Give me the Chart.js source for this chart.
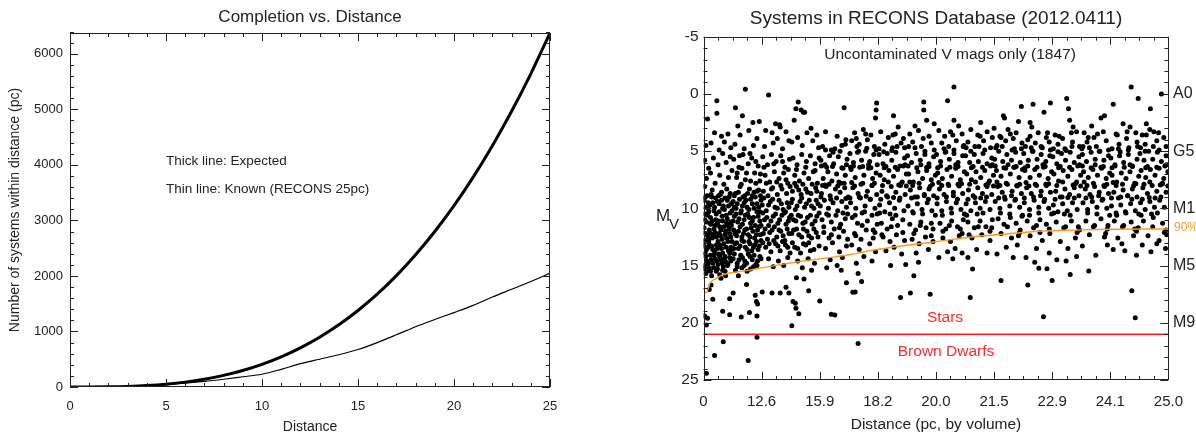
<!DOCTYPE html>
<html>
<head>
<meta charset="utf-8">
<script src="https://cdn.jsdelivr.net/npm/chart.js@4.4.1/dist/chart.umd.min.js"></script>
<style>
  html, body { margin: 0; padding: 0; background: #fff; }
  #wrap { position: relative; width: 1196px; height: 433px; overflow: hidden; }
  canvas { position: absolute; top: 0; }
  #left { left: 0; }
  #right { left: 620px; }
</style>
</head>
<body>
<div id="wrap">
  <canvas id="left" width="620" height="433"></canvas>
  <canvas id="right" width="576" height="433"></canvas>
</div>
<script>
// ---- left panel: cumulative counts vs distance ----
const distances = [0,1,2,3,4,5,6,7,8,9,10,11,12,13,14,15,16,17,18,19,20,21,22,23,24,25];
const expectedCount = [0,0,3,11,26,51,88,140,209,297,408,543,705,896,1120,1378,1672,2006,2382,2800,3265,3780,4345,4965,5640,6375];
const knownCount = [0,1,4,10,22,42,68,100,140,185,230,318,420,500,580,675,800,940,1085,1215,1340,1470,1620,1760,1900,2050];
const distanceTicks = [0,5,10,15,20,25];
const countTicks = [0,1000,2000,3000,4000,5000,6000];

// ---- right panel: M_V vs distance (x = volume eighths) ----
const distLabels = ['0','12.6','15.9','18.2','20.0','21.5','22.9','24.1','25.0'];
const mvTicks = [-5,0,5,10,15,20,25];
const spectralLabels = { 0: 'A0', 5: 'G5', 10: 'M1', 15: 'M5', 20: 'M9' };
const completeVol = [0,0.05,0.11,0.23,0.34,0.51,0.79,1.01,1.35,1.63,1.92,2.2,2.48,2.87,3.44,4.0,4.56,5.18,5.86,6.41,7.0,8.0];
const completeMv  = [17.1,17.4,16.55,16.1,15.8,15.6,15.4,15.2,14.9,14.67,14.46,14.28,14.08,13.7,13.27,12.92,12.53,12.25,11.98,11.9,11.83,11.8];
const starDwarfLimit = 21;

const systemsNear = [
  [0.07,2.2],[0.23,0.6],[0.23,1.7],[0.04,4.5],[0.13,4.3],[0.19,3.4],[0.31,3.7],[0.36,4.2],[0.42,3.5],[0.47,4.7],[0.27,4.9],
  [0.02,5.8],[0.09,6.5],[0.17,5.6],[0.25,6.2],[0.33,5.2],[0.39,6.0],[0.46,5.5],[0.05,7.4],[0.12,6.9],[0.2,7.8],[0.28,7.1],[0.35,7.9],[0.43,7.3],[0.49,6.7],[0.15,8.4],[0.31,8.6],[0.02,8.1],[0.4,8.3],
  [0.01,9.3],[0.06,8.9],[0.11,9.7],[0.14,9.0],[0.19,9.9],[0.24,9.4],[0.29,8.8],[0.34,9.8],[0.37,9.1],[0.44,9.0],[0.48,9.6],
  [0.03,10.5],[0.08,10.0],[0.12,10.8],[0.18,10.2],[0.21,11.0],[0.27,10.3],[0.32,10.7],[0.36,10.1],[0.41,10.9],[0.46,10.4],
  [0.01,11.7],[0.05,11.2],[0.1,11.9],[0.13,11.4],[0.18,11.8],[0.24,11.3],[0.28,11.6],[0.33,11.1],[0.38,12.0],[0.42,11.5],[0.47,11.2],
  [0.02,12.8],[0.06,12.3],[0.09,12.9],[0.15,12.6],[0.2,12.1],[0.25,12.9],[0.29,12.4],[0.35,13.1],[0.4,12.6],[0.45,12.2],[0.49,12.9],
  [0.03,13.9],[0.08,13.4],[0.12,14.1],[0.16,13.6],[0.22,13.2],[0.26,14.0],[0.31,13.5],[0.37,14.2],[0.43,13.7],[0.47,13.4],
  [0.02,15.0],[0.06,14.6],[0.1,15.2],[0.16,14.8],[0.2,14.4],[0.25,14.9],[0.3,14.5],[0.34,15.1],[0.39,14.7],[0.45,14.3],
  [0.04,15.7],[0.09,15.4],[0.14,15.9],[0.22,15.5],[0.28,15.8],[0.37,15.5],[0.3,16.1],[0.38,15.9],
  [0.72,-0.4],[0.55,1.2],[0.67,1.9],[0.59,2.8],[0.85,2.5],[0.96,2.4],[0.63,3.6],[0.78,3.2],[0.92,3.9],[0.54,4.4],[0.7,4.8],[0.86,4.5],
  [0.52,5.7],[0.61,6.4],[0.68,5.3],[0.77,6.1],[0.83,5.6],[0.94,6.3],[0.57,7.3],[0.65,7.9],[0.74,6.9],[0.81,7.6],[0.9,7.8],[0.98,7.0],[0.55,8.7],[0.63,8.1],[0.71,8.9],[0.79,8.3],[0.87,8.6],[0.95,8.4],
  [0.51,9.4],[0.56,10.0],[0.62,9.2],[0.67,9.8],[0.73,9.3],[0.78,10.1],[0.84,9.6],[0.89,9.0],[0.95,9.9],[0.99,9.3],
  [0.53,10.7],[0.59,11.2],[0.64,10.4],[0.7,11.0],[0.76,10.5],[0.81,11.3],[0.86,10.8],[0.92,10.3],[0.97,11.1],
  [0.52,11.9],[0.57,12.4],[0.63,11.6],[0.69,12.2],[0.74,11.8],[0.8,12.5],[0.85,12.0],[0.91,12.3],[0.96,11.6],
  [0.54,13.1],[0.6,13.5],[0.66,12.8],[0.72,13.4],[0.78,12.9],[0.83,13.7],[0.88,13.2],[0.94,13.6],[0.99,12.8],
  [0.51,14.4],[0.58,14.8],[0.64,14.1],[0.71,14.6],[0.77,14.0],[0.84,14.5],[0.9,14.9],[0.97,14.2],
  [0.55,15.4],[0.66,15.2],[0.75,15.5],[0.86,15.1],[0.6,15.9],
  [1.12,0.1],[1.24,2.6],[1.31,2.7],[1.32,2.9],[1.18,3.4],[1.07,3.2],[1.27,3.9],[1.42,3.3],[1.47,4.1],[1.05,4.6],[1.2,4.3],[1.36,4.8],
  [1.02,5.5],[1.1,6.2],[1.17,5.3],[1.25,5.9],[1.33,5.4],[1.4,6.4],[1.48,5.7],[1.06,7.1],[1.14,7.7],[1.22,6.8],[1.3,7.4],[1.38,6.9],[1.45,7.8],[1.03,8.5],[1.11,8.9],[1.19,8.2],[1.27,8.8],[1.35,8.3],[1.43,8.7],[1.49,8.1],
  [1.01,9.7],[1.08,10.2],[1.15,9.4],[1.23,9.9],[1.3,9.3],[1.37,10.1],[1.44,9.5],[1.05,11.0],[1.12,11.5],[1.2,10.7],[1.28,11.3],[1.35,10.6],[1.42,11.4],[1.48,10.8],
  [1.03,12.2],[1.1,12.7],[1.18,11.9],[1.26,12.5],[1.33,12.0],[1.4,12.8],[1.47,12.2],[1.07,13.4],[1.16,13.8],[1.24,13.1],[1.32,13.7],[1.41,13.2],[1.49,13.9],[1.12,14.4],[1.29,14.6],[1.45,14.3],[1.2,15.1],[1.38,15.0],
  [1.63,0.7],[1.59,1.3],[1.72,1.6],[1.68,1.4],[1.74,1.6],[1.56,2.3],[1.85,3.0],[1.95,3.6],[1.62,3.8],[1.78,3.4],[1.52,4.2],[1.7,4.5],[1.88,4.1],[1.98,4.7],
  [1.54,5.6],[1.61,6.2],[1.69,5.3],[1.77,5.9],[1.84,5.4],[1.92,6.1],[1.99,5.6],[1.57,7.1],[1.65,7.6],[1.73,6.9],[1.81,7.4],[1.89,6.8],[1.96,7.8],[1.53,8.5],[1.6,8.1],[1.68,8.8],[1.76,8.3],[1.85,8.7],[1.93,8.2],
  [1.51,9.5],[1.58,10.1],[1.66,9.4],[1.74,9.9],[1.82,9.3],[1.9,10.0],[1.97,9.6],[1.55,11.0],[1.63,10.6],[1.71,11.3],[1.79,10.8],[1.87,11.4],[1.95,10.7],[1.52,12.2],[1.6,11.8],[1.69,12.5],[1.78,12.0],[1.86,12.6],[1.94,12.1],[1.57,13.4],[1.67,13.9],[1.76,13.2],[1.84,13.7],[1.99,13.3],[1.62,14.6],[1.8,14.4],[1.91,14.8],[1.7,15.2],[1.86,15.4]
];

const systemsMid = [
  [2.42,1.2],[2.1,3.3],[2.3,3.7],[2.45,4.0],[2.05,4.6],[2.2,4.9],[2.38,4.5],
  [2.02,5.8],[2.09,6.2],[2.17,5.4],[2.24,6.1],[2.32,5.5],[2.4,6.5],[2.47,5.7],[2.06,7.4],[2.14,6.8],[2.21,7.6],[2.29,7.0],[2.36,7.8],[2.44,7.1],[2.03,8.7],[2.11,8.1],[2.18,8.9],[2.27,8.3],[2.35,8.6],[2.43,8.2],[2.49,9.0],
  [2.01,9.8],[2.08,9.3],[2.15,10.0],[2.23,9.5],[2.31,10.2],[2.38,9.4],[2.46,9.9],[2.04,11.0],[2.12,10.5],[2.2,11.2],[2.28,10.6],[2.36,11.4],[2.44,10.9],[2.07,12.1],[2.16,12.6],[2.25,11.8],[2.33,12.5],[2.41,12.0],[2.48,12.7],[2.1,13.5],[2.22,13.0],[2.34,13.8],[2.46,13.3],[2.18,14.5],[2.39,14.3],[2.3,15.0],[2.12,15.2],[2.37,15.4],
  [2.98,0.8],[2.97,1.4],[2.96,2.1],[2.6,3.4],[2.75,3.1],[2.88,3.6],[2.55,4.1],[2.68,4.4],[2.82,4.0],[2.94,4.6],[2.63,3.9],
  [2.52,5.2],[2.58,6.0],[2.65,5.1],[2.72,5.8],[2.79,5.0],[2.86,5.9],[2.93,5.3],[2.99,6.2],[2.54,6.6],[2.61,7.3],[2.69,6.4],[2.76,7.1],[2.84,6.5],[2.91,7.4],[2.97,6.9],[2.57,8.2],[2.66,8.7],[2.74,7.8],[2.82,8.5],[2.9,8.0],[2.98,8.8],
  [2.53,9.5],[2.62,10.0],[2.7,9.1],[2.78,9.8],[2.87,9.2],[2.95,10.0],[2.56,10.8],[2.65,11.3],[2.73,10.4],[2.82,11.1],[2.9,10.6],[2.99,11.4],[2.6,12.2],[2.71,12.7],[2.8,11.9],[2.92,12.6],[2.55,13.2],[2.68,13.6],[2.86,13.1],[2.96,13.8],[2.76,14.2],[2.9,14.6],[2.63,14.8],
  [3.27,1.9],[3.35,2.9],[3.05,3.3],[3.18,3.8],[3.3,3.5],[3.44,3.9],[3.12,4.4],[3.25,4.7],[3.4,4.3],
  [3.02,5.3],[3.09,6.1],[3.16,5.2],[3.24,5.8],[3.31,5.1],[3.38,6.3],[3.46,5.6],[3.04,7.1],[3.11,7.5],[3.19,6.7],[3.27,7.2],[3.34,6.6],[3.42,7.7],[3.49,7.0],[3.07,8.5],[3.15,8.9],[3.23,8.1],[3.31,8.6],[3.39,8.0],[3.47,8.8],
  [3.03,9.7],[3.12,10.3],[3.2,9.5],[3.29,10.0],[3.37,9.3],[3.45,10.2],[3.06,11.3],[3.16,11.8],[3.25,10.9],[3.34,11.5],[3.43,11.0],[3.09,12.5],[3.21,12.9],[3.32,12.3],[3.46,12.8],[3.14,13.7],[3.28,13.4],[3.41,14.0],[3.22,15.0],[3.48,14.9],
  [3.79,0.7],[3.79,1.4],[3.84,2.3],[3.64,2.8],[3.97,2.6],[3.55,3.5],[3.7,3.2],[3.88,3.7],[3.6,4.2],[3.75,4.6],[3.92,4.3],
  [3.51,5.4],[3.58,6.0],[3.66,5.2],[3.73,5.8],[3.81,5.3],[3.88,6.1],[3.96,5.5],[3.53,7.0],[3.61,7.7],[3.69,6.8],[3.77,7.4],[3.84,6.7],[3.92,7.5],[3.99,7.1],[3.56,8.4],[3.64,9.0],[3.72,8.2],[3.8,8.8],[3.88,8.3],[3.96,8.9],
  [3.52,9.8],[3.6,10.3],[3.68,9.6],[3.76,10.1],[3.85,9.5],[3.93,10.2],[3.55,11.4],[3.65,11.9],[3.74,11.2],[3.83,11.7],[3.92,11.3],[3.59,12.7],[3.71,13.1],[3.82,12.5],[3.95,12.9],[3.66,13.9],[3.87,13.6],[3.7,14.7],
  [4.2,0.6],[4.31,-0.6],[4.31,2.3],[4.39,2.8],[4.05,3.2],[4.15,3.7],[4.25,3.3],[4.45,3.5],[4.1,4.3],[4.22,4.6],[4.35,4.1],[4.48,4.5],
  [4.01,5.3],[4.08,5.9],[4.16,5.1],[4.23,5.7],[4.31,5.2],[4.38,6.0],[4.46,5.4],[4.03,6.9],[4.11,7.4],[4.19,6.6],[4.27,7.2],[4.34,6.5],[4.42,7.5],[4.49,6.8],[4.06,8.3],[4.14,8.8],[4.22,8.0],[4.3,8.6],[4.38,7.9],[4.46,8.7],
  [4.02,9.6],[4.1,10.2],[4.18,9.4],[4.26,10.0],[4.35,9.5],[4.43,10.1],[4.07,11.3],[4.17,11.8],[4.27,11.1],[4.37,11.6],[4.47,11.0],[4.12,12.6],[4.25,12.9],[4.4,12.4],[4.2,13.8],[4.33,13.5],[4.45,13.9],[4.29,14.4],[4.05,14.3],
  [4.77,2.5],[4.6,3.1],[4.72,3.6],[4.88,3.3],[4.97,3.8],[4.55,4.2],[4.67,4.6],[4.82,4.1],[4.94,4.7],
  [4.51,5.4],[4.58,6.0],[4.66,5.3],[4.73,5.9],[4.81,5.2],[4.88,6.1],[4.96,5.6],[4.53,7.0],[4.61,7.5],[4.69,6.8],[4.77,7.3],[4.84,6.7],[4.92,7.6],[4.99,7.1],[4.56,8.4],[4.64,8.9],[4.72,8.2],[4.8,8.7],[4.88,8.1],[4.96,8.8],
  [4.52,9.6],[4.6,10.2],[4.68,9.5],[4.76,10.0],[4.85,9.4],[4.93,10.1],[4.55,11.2],[4.66,11.7],[4.76,11.1],[4.86,11.6],[4.97,11.0],[4.62,12.6],[4.79,12.3],[4.93,12.8],[4.7,13.6],[4.88,13.9],[4.55,14.3]
];

const systemsFar = [
  [5.47,1.1],[5.16,1.9],[5.18,2.1],[5.42,2.4],[5.0,3.0],[5.24,3.1],[5.1,3.7],[5.33,3.9],[5.38,3.4],[5.05,4.5],[5.2,4.1],[5.35,4.8],[5.48,4.3],
  [5.01,5.7],[5.08,5.0],[5.15,5.9],[5.22,5.3],[5.3,5.8],[5.37,5.1],[5.45,6.0],[5.04,6.7],[5.12,7.2],[5.2,6.5],[5.28,7.0],[5.35,6.4],[5.43,7.3],[5.49,6.6],[5.06,8.1],[5.14,8.6],[5.23,7.9],[5.31,8.5],[5.39,8.0],[5.47,8.7],
  [5.02,9.4],[5.1,10.0],[5.19,9.2],[5.27,9.8],[5.36,9.3],[5.44,9.9],[5.07,10.9],[5.17,11.4],[5.28,10.8],[5.38,11.3],[5.48,10.7],[5.12,12.2],[5.3,12.6],[5.44,12.1],[5.21,13.4],[5.4,13.2],[5.33,14.3],[5.05,14.0],
  [5.67,0.9],[5.97,0.8],[5.86,1.6],[5.65,2.9],[5.62,2.5],[5.76,3.4],[5.9,3.8],[5.58,4.0],[5.71,4.3],[5.83,4.7],[5.95,4.2],[5.54,4.6],
  [5.51,5.2],[5.59,5.8],[5.66,5.0],[5.74,5.7],[5.81,5.3],[5.89,5.9],[5.96,5.4],[5.53,6.7],[5.62,7.3],[5.7,6.6],[5.78,7.1],[5.85,6.4],[5.93,7.4],[5.99,6.8],[5.56,8.2],[5.64,8.7],[5.73,8.0],[5.81,8.5],[5.89,7.9],[5.97,8.6],
  [5.52,9.5],[5.61,10.1],[5.69,9.3],[5.77,9.9],[5.86,9.4],[5.94,10.0],[5.57,11.1],[5.68,11.7],[5.79,11.0],[5.9,11.4],[5.62,12.4],[5.83,12.8],[5.96,12.2],[5.73,13.5],[5.55,14.3],[5.95,13.9],[5.7,14.7],
  [6.25,0.4],[6.28,1.3],[6.3,2.3],[6.36,2.9],[6.05,3.6],[6.18,3.9],[6.42,3.3],[6.1,4.4],[6.22,4.8],[6.35,4.2],[6.47,4.6],
  [6.01,5.5],[6.08,6.1],[6.16,5.2],[6.23,5.8],[6.31,5.1],[6.38,6.0],[6.46,5.5],[6.03,7.0],[6.11,7.6],[6.19,6.7],[6.27,7.2],[6.34,6.6],[6.42,7.7],[6.49,7.1],[6.06,8.5],[6.14,9.0],[6.22,8.3],[6.3,8.8],[6.38,8.2],[6.46,8.9],
  [6.02,9.7],[6.1,10.3],[6.18,9.6],[6.26,10.2],[6.35,9.5],[6.43,10.1],[6.07,11.2],[6.2,11.7],[6.33,11.1],[6.45,11.6],[6.14,12.9],[6.4,12.6],[6.27,13.5],[6.42,14.2],[6.08,14.5],[6.24,14.6],
  [6.84,2.1],[6.9,1.9],[6.68,2.8],[6.55,3.4],[6.72,3.8],[6.88,3.3],[6.6,4.2],[6.76,4.6],[6.93,4.1],[6.51,4.8],
  [6.52,5.3],[6.59,5.9],[6.67,5.1],[6.74,5.7],[6.82,5.0],[6.89,5.8],[6.97,5.4],[6.54,6.8],[6.62,7.3],[6.7,6.6],[6.78,7.1],[6.85,6.5],[6.93,7.4],[6.99,6.9],[6.57,8.3],[6.65,8.8],[6.73,8.1],[6.81,8.6],[6.89,8.0],[6.97,8.7],
  [6.53,9.5],[6.61,10.1],[6.69,9.4],[6.77,9.9],[6.86,9.3],[6.94,10.0],[6.58,11.1],[6.71,11.6],[6.84,10.9],[6.96,11.5],[6.64,12.3],[6.9,12.5],[6.75,14.1],[6.52,13.3],[6.95,13.2],
  [7.05,0.9],[7.36,-0.6],[7.48,0.4],[7.22,2.6],[7.34,2.9],[7.1,3.5],[7.28,3.9],[7.44,3.4],[7.15,4.4],[7.32,4.7],[7.46,4.2],[7.03,4.8],
  [7.01,5.6],[7.08,6.2],[7.16,5.4],[7.23,6.0],[7.31,5.3],[7.38,6.3],[7.46,5.7],[7.03,7.1],[7.11,7.7],[7.19,6.9],[7.27,7.4],[7.34,6.8],[7.42,7.8],[7.49,7.2],[7.06,8.6],[7.14,9.1],[7.22,8.4],[7.3,8.9],[7.38,8.3],[7.46,9.0],
  [7.02,9.8],[7.1,10.4],[7.18,9.7],[7.26,10.3],[7.35,9.6],[7.43,10.2],[7.07,11.1],[7.21,11.6],[7.36,11.2],[7.48,11.7],[7.13,12.6],[7.4,12.4],[7.25,13.7],[7.05,13.6],[7.45,14.1],[7.2,13.1],
  [7.69,1.3],[7.88,0.0],[7.62,2.6],[7.68,3.1],[7.55,3.6],[7.75,3.3],[7.92,3.8],[7.6,4.4],[7.8,4.1],[7.96,4.6],
  [7.51,5.2],[7.58,5.8],[7.66,5.0],[7.73,5.7],[7.81,5.1],[7.88,5.9],[7.96,5.4],[7.53,6.7],[7.61,7.3],[7.69,6.6],[7.77,7.1],[7.84,6.5],[7.92,7.4],[7.99,6.8],[7.56,8.2],[7.64,8.7],[7.72,8.0],[7.8,8.5],[7.88,7.9],[7.96,8.6],
  [7.52,9.5],[7.6,10.1],[7.68,9.4],[7.76,9.9],[7.85,9.3],[7.93,9.9],[7.57,11.1],[7.74,10.8],[7.9,11.3],[7.65,12.4],[7.84,12.8],[7.97,12.3],[7.7,13.8],[7.55,13.2],[7.95,13.5],[7.8,13.1]
];

// second pass over the crowded areas (fills between the rows above)
const systemsCrowded = [
  [0.04,9.9],[0.09,10.3],[0.16,9.5],[0.22,10.5],[0.27,9.6],[0.33,10.0],[0.39,10.6],[0.43,9.8],[0.49,10.2],
  [0.02,11.0],[0.07,10.6],[0.11,11.3],[0.15,11.1],[0.2,11.5],[0.26,11.1],[0.3,11.9],[0.35,11.6],[0.4,11.3],[0.44,11.8],[0.48,11.5],
  [0.03,12.2],[0.08,12.6],[0.12,12.2],[0.17,12.3],[0.22,12.5],[0.27,12.2],[0.32,12.7],[0.37,12.3],[0.42,12.9],[0.47,12.5],
  [0.01,13.3],[0.05,13.6],[0.1,13.2],[0.14,13.3],[0.19,13.8],[0.24,13.5],[0.28,13.2],[0.33,13.9],[0.39,13.4],[0.45,13.9],[0.49,13.6],
  [0.04,14.2],[0.08,14.8],[0.13,14.5],[0.18,14.1],[0.23,14.6],[0.28,14.2],[0.32,14.8],[0.36,14.4],[0.42,14.9],[0.47,14.6],
  [0.01,15.3],[0.07,15.1],[0.12,15.5],[0.18,15.2],[0.24,15.3],[0.33,15.4],[0.41,15.0],
  [0.03,9.0],[0.08,9.5],[0.13,8.8],[0.21,9.1],[0.26,8.9],[0.31,9.3],[0.41,9.3],[0.46,8.7],
  [0.53,9.9],[0.58,9.6],[0.65,10.2],[0.7,9.5],[0.75,9.9],[0.81,9.2],[0.87,10.0],[0.92,9.6],[0.97,10.3],
  [0.51,11.1],[0.56,10.5],[0.61,10.9],[0.67,11.4],[0.72,10.6],[0.79,10.8],[0.84,11.1],[0.89,11.5],[0.94,10.7],[0.99,11.5],
  [0.54,12.2],[0.6,12.0],[0.66,12.5],[0.71,11.9],[0.77,12.3],[0.82,11.7],[0.88,12.6],[0.93,11.9],[0.98,12.3],
  [0.52,13.5],[0.57,13.0],[0.63,13.3],[0.69,12.9],[0.75,13.6],[0.8,13.1],[0.86,13.4],[0.91,12.9],[0.96,13.3],
  [0.53,14.0],[0.61,14.5],[0.67,14.3],[0.74,14.8],[0.8,14.2],[0.87,14.1],[0.93,14.6],[0.99,14.4],
  [0.58,15.1],[0.7,15.0],[0.81,15.3],[0.92,15.0],
  [0.53,8.9],[0.6,8.6],[0.68,9.0],[0.76,8.7],[0.84,8.9],[0.92,8.5],[0.98,8.9],
  [0.58,6.9],[0.66,6.5],[0.72,7.5],[0.88,6.9],[0.97,7.6],[0.62,5.4],[0.8,5.2],[0.9,5.9],
  [1.04,9.1],[1.12,9.7],[1.19,9.2],[1.27,10.0],[1.34,9.6],[1.41,10.3],[1.47,9.9],
  [1.02,10.4],[1.09,10.8],[1.16,11.1],[1.24,10.5],[1.31,11.0],[1.39,10.4],[1.46,11.1],
  [1.06,11.8],[1.14,12.1],[1.22,11.6],[1.3,11.9],[1.37,12.4],[1.44,11.8],
  [1.02,13.0],[1.13,13.1],[1.21,12.8],[1.28,13.3],[1.36,12.9],[1.45,13.4],
  [1.08,7.8],[1.17,8.3],[1.26,7.7],[1.33,8.0],[1.42,7.5],[1.04,6.4],[1.21,6.1],[1.36,5.9],[1.46,6.6],
  [1.53,9.2],[1.61,9.8],[1.69,9.1],[1.77,9.6],[1.86,9.8],[1.94,9.3],
  [1.51,10.6],[1.59,11.1],[1.67,10.7],[1.75,11.2],[1.84,10.6],[1.92,11.1],[1.99,10.4],
  [1.55,11.9],[1.64,12.3],[1.72,11.8],[1.81,12.4],[1.9,11.8],[1.97,12.5],
  [1.53,13.0],[1.62,13.5],[1.72,13.1],[1.81,13.0],[1.9,13.6],
  [1.57,7.8],[1.64,8.4],[1.71,7.9],[1.79,8.6],[1.87,7.9],[1.95,8.5],[1.6,6.6],[1.76,6.4],[1.92,6.7],
  [2.03,6.3],[2.1,4.9],[2.16,7.9],[2.22,6.35],[2.29,9.1],[2.35,5.0],[2.42,7.8],[2.48,10.5],[2.05,8.0],[2.12,6.4],[2.19,9.2],[2.26,4.8],[2.33,7.7],[2.4,10.4],[2.46,6.2],[2.02,9.0],[2.09,7.95],[2.15,10.6],[2.23,5.1],[2.31,8.05],[2.38,6.45],[2.45,9.15],[2.07,11.6],[2.2,12.3],[2.34,11.7],[2.44,4.4],
  [2.52,9.1],[2.58,6.3],[2.64,4.6],[2.71,7.9],[2.77,10.3],[2.84,6.2],[2.9,8.0],[2.97,4.9],[2.55,7.75],[2.61,10.6],[2.68,9.0],[2.74,6.35],[2.81,4.75],[2.87,9.2],[2.94,7.8],[2.99,10.5],[2.53,6.4],[2.6,8.05],[2.67,5.0],[2.73,11.5],[2.8,8.95],[2.88,6.45],[2.95,12.1],[2.62,12.4],[2.79,3.5],[2.92,11.9],
  [3.02,4.8],[3.08,8.0],[3.14,6.35],[3.21,10.5],[3.27,9.05],[3.33,4.6],[3.4,7.85],[3.47,6.2],[3.05,9.2],[3.11,6.45],[3.18,7.7],[3.24,4.95],[3.31,10.6],[3.38,9.1],[3.44,6.3],[3.49,8.05],[3.03,10.4],[3.1,5.05],[3.17,9.0],[3.23,11.6],[3.3,6.4],[3.36,7.95],[3.43,12.1],[3.07,12.3],[3.26,3.6],[3.46,4.7],
  [3.52,6.3],[3.58,9.1],[3.64,4.7],[3.71,7.8],[3.77,10.5],[3.84,6.4],[3.9,8.1],[3.97,4.9],[3.55,7.7],[3.61,10.4],[3.68,9.0],[3.74,6.2],[3.81,5.0],[3.87,9.2],[3.94,7.9],[3.99,10.6],[3.53,4.6],[3.6,8.0],[3.67,6.45],[3.73,11.5],[3.8,8.9],[3.88,6.35],[3.95,11.8],[3.62,12.2],[3.78,3.9],[3.92,12.4],
  [4.02,9.1],[4.08,6.3],[4.14,4.8],[4.21,7.9],[4.27,10.4],[4.34,6.2],[4.4,8.05],[4.47,4.6],[4.05,7.75],[4.11,10.6],[4.18,9.0],[4.24,6.4],[4.31,4.9],[4.37,9.2],[4.44,7.85],[4.49,10.5],[4.03,6.45],[4.1,8.0],[4.17,5.05],[4.23,11.5],[4.3,8.9],[4.38,6.35],[4.45,12.2],[4.12,12.0],[4.29,3.6],[4.42,11.8],
  [4.52,4.7],[4.58,7.9],[4.64,6.35],[4.71,10.5],[4.77,9.1],[4.84,4.9],[4.9,7.8],[4.97,6.2],[4.55,9.2],[4.61,6.45],[4.68,7.7],[4.74,4.6],[4.81,10.4],[4.87,9.0],[4.94,6.3],[4.99,8.05],[4.53,10.6],[4.6,5.0],[4.67,9.05],[4.73,11.6],[4.8,6.4],[4.86,7.95],[4.93,12.0],[4.57,12.3],[4.76,3.7],[4.96,11.7],
  [5.02,6.3],[5.08,9.1],[5.14,4.6],[5.21,7.8],[5.27,10.5],[5.34,6.4],[5.4,8.05],[5.47,4.8],[5.05,7.7],[5.11,10.4],[5.18,9.0],[5.24,6.2],[5.31,4.9],[5.37,9.2],[5.44,7.9],[5.49,10.6],[5.03,4.7],[5.1,8.0],[5.17,6.45],[5.23,11.6],[5.3,8.9],[5.38,6.35],[5.45,11.9],[5.12,3.8],[5.28,3.5],[5.42,12.4],
  [5.52,9.1],[5.58,6.3],[5.64,4.7],[5.71,7.9],[5.77,10.4],[5.84,6.2],[5.9,8.0],[5.97,4.9],[5.55,7.75],[5.61,10.6],[5.68,9.0],[5.74,6.4],[5.81,4.6],[5.87,9.2],[5.94,7.85],[5.99,10.5],[5.53,6.45],[5.6,8.05],[5.67,5.0],[5.73,11.5],[5.8,8.9],[5.88,6.35],[5.95,11.8],[5.62,3.7],[5.79,12.1],[5.92,3.4],
  [6.02,4.8],[6.08,8.0],[6.14,6.35],[6.21,10.5],[6.27,9.05],[6.34,4.6],[6.4,7.85],[6.47,6.2],[6.05,9.2],[6.11,6.45],[6.18,7.7],[6.24,4.95],[6.31,10.6],[6.38,9.1],[6.44,6.3],[6.49,8.05],[6.03,10.4],[6.1,5.05],[6.17,9.0],[6.23,11.6],[6.3,6.4],[6.36,7.95],[6.43,12.1],[6.12,3.7],[6.33,3.4],[6.47,11.9],
  [6.52,6.3],[6.58,9.1],[6.64,4.7],[6.71,7.8],[6.77,10.5],[6.84,6.4],[6.9,8.1],[6.97,4.9],[6.55,7.7],[6.61,10.4],[6.68,9.0],[6.74,6.2],[6.81,5.0],[6.87,9.2],[6.94,7.9],[6.99,10.6],[6.53,4.6],[6.6,8.0],[6.67,6.45],[6.73,11.5],[6.8,8.9],[6.88,6.35],[6.95,11.8],[6.62,3.8],[6.78,3.5],[6.92,12.2],
  [7.02,9.1],[7.08,6.3],[7.14,4.8],[7.21,7.9],[7.27,10.4],[7.34,6.2],[7.4,8.05],[7.47,4.6],[7.05,7.75],[7.11,10.6],[7.18,9.0],[7.24,6.4],[7.31,4.9],[7.37,9.2],[7.44,7.85],[7.49,10.5],[7.03,6.45],[7.1,8.0],[7.17,5.05],[7.23,11.5],[7.3,8.9],[7.38,6.35],[7.45,12.0],[7.12,3.6],[7.29,3.3],[7.42,11.8],
  [7.52,4.7],[7.58,7.9],[7.64,6.35],[7.71,10.5],[7.77,9.1],[7.84,4.9],[7.9,7.8],[7.97,6.2],[7.55,9.2],[7.61,6.45],[7.68,7.7],[7.74,4.6],[7.81,10.4],[7.87,9.0],[7.94,6.3],[7.99,8.05],[7.53,10.6],[7.6,5.0],[7.67,9.05],[7.73,11.6],[7.8,6.4],[7.86,7.95],[7.93,12.1],[7.62,3.6],[7.83,3.4],[7.96,11.9]
];

const faintOutliers = [
  [0.02,19.4],[0.07,19.6],[0.05,20.2],[0.05,24.4],[0.19,22.85],[0.34,21.65],[0.16,17.95],[0.33,19.0],[0.45,19.3],[0.1,17.1],[0.13,16.7],[0.45,17.9],
  [0.74,16.65],[0.65,19.5],[0.79,19.1],[0.92,19.4],[0.89,17.6],[0.91,18.15],[0.93,18.35],[0.77,23.3],[0.92,21.27],[0.51,17.4],
  [1.01,17.3],[1.18,17.4],[1.32,17.4],[1.42,16.9],[1.47,17.4],[1.54,18.15],[1.58,18.3],[1.59,18.74],[1.64,19.2],[1.52,20.25],[1.6,16.06],[1.73,16.18],[1.81,17.2],
  [2.0,18.1],[2.2,19.26],[2.26,19.32],[2.46,16.5],[2.57,17.34],[2.61,17.3],[2.66,15.7],[2.72,16.4],[2.66,21.8],
  [3.39,17.8],[3.56,17.4],[3.62,15.9],[3.9,17.5],[4.59,17.8],[4.63,15.3],[5.12,16.3],[5.58,16.7],[5.85,19.47],[5.91,15.27],[5.77,15.24],
  [6.0,16.3],[6.31,15.77],[6.63,15.48],[7.37,17.2],[7.43,19.56]
];

const FONT = "'Liberation Sans', Arial, Helvetica, sans-serif";
const INK = '#222';
Chart.defaults.font.family = FONT;
Chart.defaults.color = INK;

const toPoints = pairs => pairs.map(p => ({ x: p[0], y: p[1] }));
const fixedTicks = values => scale => { scale.ticks = values.map(v => ({ value: v })); };

// IDL-style box: frame on four sides with inward major/minor ticks
const boxTicks = {
    id: 'boxTicks',
    afterDatasetsDraw(chart, args, opts) {
        const { ctx, chartArea: a, scales: { x, y } } = chart;
        ctx.save();
        ctx.strokeStyle = INK;
        ctx.lineWidth = 1;
        ctx.strokeRect(Math.round(a.left) + 0.5, Math.round(a.top) + 0.5,
            Math.round(a.right - a.left) - 1, Math.round(a.bottom - a.top) - 1);
        const marks = (scale, minor, major) => {
            const n = Math.round((scale.max - scale.min) / minor);
            const out = [];
            for (let i = 0; i <= n; i++) {
                const v = scale.min + i * minor;
                const r = v / major;
                out.push({ px: Math.round(scale.getPixelForValue(v)) + 0.5, major: Math.abs(r - Math.round(r)) < 1e-6 });
            }
            return out;
        };
        ctx.beginPath();
        marks(x, opts.xMinor, opts.xMajor).forEach(m => {
            const len = m.major ? opts.majorLen : opts.minorLen;
            ctx.moveTo(m.px, a.bottom); ctx.lineTo(m.px, a.bottom - len);
            ctx.moveTo(m.px, a.top); ctx.lineTo(m.px, a.top + len);
        });
        marks(y, opts.yMinor, opts.yMajor).forEach(m => {
            const len = m.major ? opts.majorLen : opts.minorLen;
            ctx.moveTo(a.left, m.px); ctx.lineTo(a.left + len, m.px);
            ctx.moveTo(a.right, m.px); ctx.lineTo(a.right - len, m.px);
        });
        ctx.stroke();
        ctx.restore();
    }
};

// free text (titles, axis titles, notes) in canvas pixels
const notes = {
    id: 'notes',
    afterDraw(chart, args, opts) {
        const { ctx } = chart;
        (opts.items || []).forEach(it => {
            ctx.save();
            ctx.font = it.font;
            ctx.fillStyle = it.color || INK;
            ctx.textAlign = it.align || 'center';
            ctx.textBaseline = it.baseline || 'middle';
            ctx.translate(it.x, it.y);
            if (it.rotate) ctx.rotate(it.rotate);
            ctx.fillText(it.text, 0, 0);
            ctx.restore();
        });
    }
};

function initCompletionChart() {
    const el = document.getElementById('left');
    new Chart(el, {
        type: 'line',
        data: {
            datasets: [{
                label: 'Expected',
                data: distances.map((d, i) => ({ x: d, y: expectedCount[i] })),
                borderColor: '#000',
                borderWidth: 3,
                pointRadius: 0,
                cubicInterpolationMode: 'monotone',
            }, {
                label: 'Known',
                data: distances.map((d, i) => ({ x: d, y: knownCount[i] })),
                borderColor: '#000',
                borderWidth: 1.2,
                pointRadius: 0,
                cubicInterpolationMode: 'monotone',
            }],
        },
        options: {
            responsive: false,
            animation: false,
            devicePixelRatio: 1,
            layout: { padding: { left: 0, top: 33, right: 70, bottom: 0 } },
            plugins: {
                legend: { display: false },
                tooltip: { enabled: false },
                boxTicks: { xMinor: 1, xMajor: 5, yMinor: 200, yMajor: 1000, majorLen: 8, minorLen: 4 },
                notes: { items: [
                    { text: 'Completion vs. Distance', x: 310, y: 17, font: `17px ${FONT}` },
                    { text: 'Distance', x: 310, y: 427, font: `14px ${FONT}` },
                    { text: 'Number of systems within distance (pc)', x: 15, y: 210, font: `14px ${FONT}`, rotate: -Math.PI / 2 },
                    { text: 'Thick line: Expected', x: 166, y: 161, font: `13.5px ${FONT}`, align: 'left' },
                    { text: 'Thin line: Known (RECONS 25pc)', x: 166, y: 189, font: `13.5px ${FONT}`, align: 'left' },
                ] },
            },
            scales: {
                x: {
                    type: 'linear', min: 0, max: 25,
                    grid: { display: false, drawTicks: false },
                    border: { display: false },
                    afterBuildTicks: fixedTicks(distanceTicks),
                    ticks: { padding: 12, autoSkip: false, maxRotation: 0, font: { size: 13 }, color: INK,
                        callback: v => String(v) },
                    afterFit: s => { s.height = 46; },
                },
                y: {
                    type: 'linear', min: 0, max: 6375,
                    grid: { display: false, drawTicks: false },
                    border: { display: false },
                    afterBuildTicks: fixedTicks(countTicks),
                    ticks: { padding: 7, autoSkip: false, font: { size: 13 }, color: INK,
                        callback: v => String(v) },
                    afterFit: s => { s.width = 70; },
                },
            },
        },
        plugins: [boxTicks, notes],
    });
}

function initMagnitudeChart() {
    const el = document.getElementById('right');
    const systems = [...systemsNear, ...systemsMid, ...systemsFar, ...systemsCrowded, ...faintOutliers];
    new Chart(el, {
        type: 'scatter',
        data: {
            datasets: [{
                label: 'Systems',
                data: toPoints(systems),
                backgroundColor: '#000',
                borderWidth: 0,
                pointRadius: 2.5,
                order: 2,
            }, {
                label: '90% complete',
                data: completeVol.map((v, i) => ({ x: v, y: completeMv[i] })),
                showLine: true,
                borderColor: '#ff9a1a',
                borderWidth: 1.4,
                pointRadius: 0,
                cubicInterpolationMode: 'monotone',
                order: 1,
            }, {
                label: 'Star / brown dwarf limit',
                data: [{ x: 0, y: starDwarfLimit }, { x: 8, y: starDwarfLimit }],
                showLine: true,
                borderColor: '#ff1a1a',
                borderWidth: 1.5,
                pointRadius: 0,
                order: 1,
            }],
        },
        options: {
            responsive: false,
            animation: false,
            devicePixelRatio: 1,
            layout: { padding: { left: 0, top: 36.7, right: 27.5, bottom: 0 } },
            plugins: {
                legend: { display: false },
                tooltip: { enabled: false },
                boxTicks: { xMinor: 0.25, xMajor: 1, yMinor: 1, yMajor: 5, majorLen: 8, minorLen: 4 },
                notes: { items: [
                    { text: 'Systems in RECONS Database (2012.0411)', x: 316, y: 19, font: `19px ${FONT}` },
                    { text: 'Uncontaminated V mags only (1847)', x: 330, y: 55, font: `15.5px ${FONT}` },
                    { text: 'Distance (pc, by volume)', x: 316, y: 425, font: `15.5px ${FONT}` },
                    { text: 'Stars', x: 325, y: 318, font: `15.5px ${FONT}`, color: '#ff2a2a' },
                    { text: 'Brown Dwarfs', x: 326, y: 352, font: `15.5px ${FONT}`, color: '#ff2a2a' },
                    { text: 'M', x: 36, y: 221, font: `17px ${FONT}`, align: 'left', baseline: 'alphabetic' },
                    { text: 'V', x: 49, y: 229, font: `15px ${FONT}`, align: 'left', baseline: 'alphabetic' },
                    { text: '90%', x: 554, y: 228, font: `12px ${FONT}`, align: 'left', color: '#ff9a1a' },
                    ...Object.entries(spectralLabels).map(([mv, t]) => ({
                        text: t, x: 553, y: 36.7 + (Number(mv) + 5) * (343.3 / 30), font: `16px ${FONT}`, align: 'left',
                    })),
                ] },
            },
            scales: {
                x: {
                    type: 'linear', min: 0, max: 8,
                    grid: { display: false, drawTicks: false },
                    border: { display: false },
                    afterBuildTicks: fixedTicks(distLabels.map((l, i) => i)),
                    ticks: { padding: 13, autoSkip: false, maxRotation: 0, font: { size: 15 }, color: INK,
                        callback: v => distLabels[v] ?? '' },
                    afterFit: s => { s.height = 53; },
                },
                y: {
                    type: 'linear', min: -5, max: 25, reverse: true,
                    grid: { display: false, drawTicks: false },
                    border: { display: false },
                    afterBuildTicks: fixedTicks(mvTicks),
                    ticks: { padding: 5, autoSkip: false, font: { size: 15.5 }, color: INK,
                        callback: v => String(v) },
                    afterFit: s => { s.width = 83.5; },
                },
            },
        },
        plugins: [boxTicks, notes],
    });
}

initCompletionChart();
initMagnitudeChart();
</script>
</body>
</html>
